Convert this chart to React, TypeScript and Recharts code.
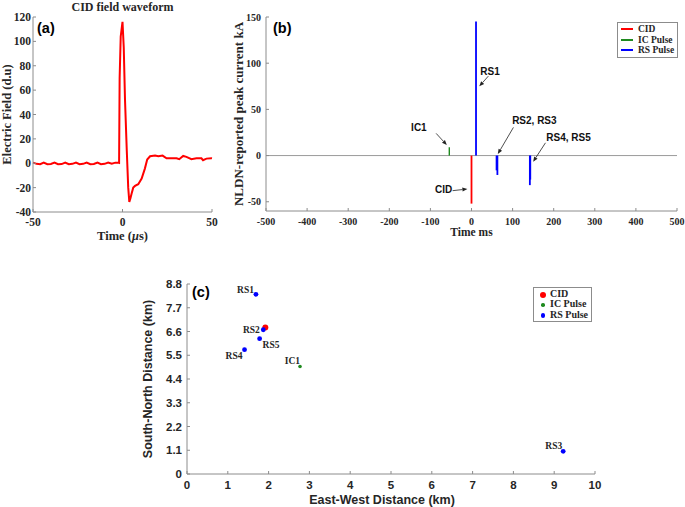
import React from "react";
import {
  LineChart,
  Line,
  ScatterChart,
  Scatter,
  XAxis,
  YAxis,
  ReferenceLine,
  ReferenceDot,
  Legend,
} from "recharts";

const SERIF = '"Liberation Serif", "Times New Roman", serif';
const SANS = '"Liberation Sans", Arial, sans-serif';
const AXIS = "#8c8c8c";
const INK = "#262626";

// (a) CID field waveform, time in microseconds
const waveTime = [
  -50, -48, -46, -44, -42, -40, -38, -36, -34, -32, -30, -28, -26, -24, -22, -20, -18, -16, -14, -12,
  -10, -8, -6, -4, -2.4, -1.9, -1.6, -1, 0, 0.7, 1.4, 2.4, 3.2, 3.8, 4.4, 5.1, 6, 7, 8.8, 10.7, 12.5,
  13.8, 15.4, 18.2, 20, 22.4, 24.6, 27, 30.2, 31.7, 33.9, 35.7, 38.5, 41.3, 44.1, 45, 46.9, 49.7, 50,
];
const waveField = [
  0.5, -0.5, -0.8, 0.6, -0.8, -0.6, 0.6, -0.8, -0.7, 0.6, -0.8, -0.5, 0.6, -0.8, -0.5, 0.6, -0.8, -0.6,
  0.6, -0.8, -0.5, 0.6, -0.4, 0.5, 0.5, 0.3, 70, 104, 116, 95, 52, 10, -20, -31.7, -29, -24.9, -20,
  -18.6, -17.2, -12.6, -4.4, 3, 5.7, 6.3, 5.7, 6.3, 4.1, 4.1, 4.1, 3.3, 6, 5.2, 3.3, 4.1, 4.1, 2.5, 3.8,
  4.1, 4,
];
const waveTicksX = [-50, 0, 50];
const waveTicksY = [-40, -20, 0, 20, 40, 60, 80, 100, 120];

// (b) NLDN-reported pulses
const pulseNames = ["CID", "IC1", "RS1", "RS2", "RS3", "RS4", "RS5"];
const pulseKinds = ["CID", "IC Pulse", "RS Pulse", "RS Pulse", "RS Pulse", "RS Pulse", "RS Pulse"];
const pulseTimes = [0, -54, 11, 61, 63, 142, 143];
const pulseCurrents = [-52, 9, 145, -16, -21, -32, -26];
const timeTicks = [-500, -400, -300, -200, -100, 0, 100, 200, 300, 400, 500];
const currentTicks = [-50, 0, 50, 100, 150];

// (c) pulse locations, km
const locNames = ["CID", "IC1", "RS1", "RS2", "RS3", "RS4", "RS5"];
const locKinds = ["CID", "IC Pulse", "RS Pulse", "RS Pulse", "RS Pulse", "RS Pulse", "RS Pulse"];
const eastKm = [1.92, 2.77, 1.69, 1.87, 9.22, 1.41, 1.78];
const northKm = [6.78, 4.98, 8.32, 6.68, 1.05, 5.76, 6.27];
const eastTicks = [0, 1, 2, 3, 4, 5, 6, 7, 8, 9, 10];
const northTicks = [0, 1.1, 2.2, 3.3, 4.4, 5.5, 6.6, 7.7, 8.8];

const kinds = ["CID", "IC Pulse", "RS Pulse"];
const kindColor: Record<string, string> = {
  CID: "#ff0000",
  "IC Pulse": "#1f8a1f",
  "RS Pulse": "#0000ff",
};
const kindRadius: Record<string, number> = { CID: 3, "IC Pulse": 1.8, "RS Pulse": 2.4 };

// annotation text and arrow placement for panel (b), in data units
const notes = [
  { text: "RS1", tx: 45, ty: 91, from: [41, 86], to: [19, 75] },
  { text: "IC1", tx: -128, ty: 30, from: [-86, 24], to: [-60, 11.4] },
  { text: "RS2, RS3", tx: 153, ty: 37.6, from: [102, 30.5], to: [64, 1.6] },
  { text: "RS4, RS5", tx: 236, ty: 19.2, from: [180, 13.8], to: [150, -6.7] },
  { text: "CID", tx: -68, ty: -36.5, from: [-46, -38], to: [-10, -36.2] },
];

// label placement beside each point of panel (c)
const labelPlace: Record<string, { dx: number; dy: number; anchor: string }> = {
  RS1: { dx: -2, dy: -1.5, anchor: "end" },
  RS2: { dx: -3.5, dy: 3, anchor: "end" },
  RS5: { dx: 3, dy: 9, anchor: "start" },
  RS4: { dx: -2, dy: 9, anchor: "end" },
  IC1: { dx: 0, dy: -2, anchor: "end" },
  RS3: { dx: -1, dy: -2, anchor: "end" },
};

const waveRows = waveTime.map((t, i) => ({ t, v: waveField[i] }));
const pulseRows = pulseTimes.map((t, i) => ({
  name: pulseNames[i],
  kind: pulseKinds[i],
  seg: [
    { t, v: 0 },
    { t, v: pulseCurrents[i] },
  ],
}));
const locRows = kinds.map((k) => ({
  kind: k,
  rows: locNames
    .map((name, i) => ({ name, kind: locKinds[i], x: eastKm[i], y: northKm[i] }))
    .filter((r) => r.kind === k),
}));

const serifTick = (size: number) => ({ fill: INK, fontSize: size, fontWeight: 700, fontFamily: SERIF });
const sansTick = (size: number) => ({ fill: INK, fontSize: size, fontWeight: 700, fontFamily: SANS });

function Arrow(p: any) {
  const { x1, y1, x2, y2 } = p;
  const a = Math.atan2(y2 - y1, x2 - x1);
  const bx = x2 - 5 * Math.cos(a);
  const by = y2 - 5 * Math.sin(a);
  const nx = -Math.sin(a) * 2;
  const ny = Math.cos(a) * 2;
  return (
    <g>
      <line x1={x1} y1={y1} x2={bx} y2={by} stroke="#222" strokeWidth={0.8} />
      <polygon points={`${x2},${y2} ${bx + nx},${by + ny} ${bx - nx},${by - ny}`} fill="#222" />
    </g>
  );
}

// x title of panel (a) with an italic mu
function MicroTitle(p: any) {
  const vb = p.viewBox || {};
  return (
    <text x={vb.x + vb.width / 2} y={vb.y + vb.height + 1.5} textAnchor="middle" fill={INK} fontSize={12.5} fontWeight={700} fontFamily={SERIF}>
      Time (<tspan fontStyle="italic">μ</tspan>s)
    </text>
  );
}

function LegendBox({ marker }: { marker: "line" | "dot" }) {
  return (
    <div
      style={{
        border: "1px solid #8c8c8c",
        background: "#fff",
        padding: "1px 3px 1px 3px",
        fontFamily: SERIF,
        fontWeight: 700,
        fontSize: marker === "line" ? 9.5 : 10,
        lineHeight: marker === "line" ? "10.5px" : "10.3px",
        color: INK,
      }}
    >
      {kinds.map((k) => (
        <div key={k} style={{ display: "flex", alignItems: "center", whiteSpace: "nowrap" }}>
          {marker === "line" ? (
            <span style={{ display: "inline-block", width: 12, height: 2, background: kindColor[k], marginRight: 5 }} />
          ) : (
            <span style={{ display: "inline-block", width: 12, textAlign: "center", marginRight: 1 }}>
              <span
                style={{
                  display: "inline-block",
                  width: kindRadius[k] * 2,
                  height: kindRadius[k] * 2,
                  borderRadius: "50%",
                  background: kindColor[k],
                  verticalAlign: "middle",
                }}
              />
            </span>
          )}
          <span>{k}</span>
        </div>
      ))}
    </div>
  );
}

function PanelTag({ text, left, top }: { text: string; left: number; top: number }) {
  return (
    <div style={{ position: "absolute", left, top, fontFamily: SANS, fontWeight: 700, fontSize: 14.5, lineHeight: "15px", color: "#000" }}>
      {text}
    </div>
  );
}

function WaveformPanel() {
  return (
    <div style={{ position: "absolute", left: 0, top: 0 }}>
      <LineChart width={230} height={245} data={waveRows} margin={{ top: 17, right: 18, bottom: 7, left: 0 }}>
        <XAxis
          xAxisId="b"
          type="number"
          dataKey="t"
          domain={[-50, 50]}
          ticks={waveTicksX}
          height={26}
          tickSize={-3}
          tickMargin={9}
          stroke={AXIS}
          tick={serifTick(11.5)}
          label={{ content: MicroTitle }}
        />
        <XAxis xAxisId="t" orientation="top" type="number" dataKey="t" domain={[-50, 50]} ticks={waveTicksX} height={0} tickSize={-3} tick={false} stroke={AXIS} />
        <YAxis
          yAxisId="l"
          type="number"
          domain={[-40, 120]}
          ticks={waveTicksY}
          width={33}
          tickSize={-3}
          tickMargin={5}
          stroke={AXIS}
          tick={serifTick(11.5)}
          label={{ value: "Electric Field (d.u)", angle: -90, position: "insideLeft", offset: 7, style: { textAnchor: "middle" }, fill: INK, fontSize: 12.5, fontWeight: 700, fontFamily: SERIF }}
        />
        <YAxis yAxisId="r" orientation="right" type="number" domain={[-40, 120]} ticks={waveTicksY} width={0} tickSize={-3} tick={false} stroke={AXIS} />
        <Line xAxisId="b" yAxisId="l" type="linear" dataKey="v" stroke="#ff0000" strokeWidth={2} dot={false} isAnimationActive={false} />
      </LineChart>
      <div style={{ position: "absolute", left: 33, width: 179, top: 0, textAlign: "center", fontFamily: SERIF, fontWeight: 700, fontSize: 12, lineHeight: "14px", color: INK }}>
        CID field waveform
      </div>
      <PanelTag text="(a)" left={37} top={21} />
    </div>
  );
}

function PulsePanel() {
  return (
    <div style={{ position: "absolute", left: 230, top: 0 }}>
      <LineChart width={455} height={245} margin={{ top: 17, right: 8, bottom: 14, left: 0 }}>
        <XAxis
          xAxisId="b"
          type="number"
          dataKey="t"
          domain={[-500, 500]}
          ticks={timeTicks}
          height={20}
          tickSize={-3}
          tickMargin={10}
          stroke={AXIS}
          tick={serifTick(10)}
          allowDuplicatedCategory={false}
          label={{ value: "Time ms", position: "bottom", offset: -3, fill: INK, fontSize: 11.5, fontWeight: 700, fontFamily: SERIF }}
        />
        <XAxis xAxisId="t" orientation="top" type="number" dataKey="t" domain={[-500, 500]} ticks={timeTicks} height={0} tickSize={-3} tick={false} stroke={AXIS} />
        <YAxis
          yAxisId="l"
          type="number"
          domain={[-60, 150]}
          ticks={currentTicks}
          width={36}
          tickSize={-3}
          tickMargin={8}
          stroke={AXIS}
          tick={serifTick(10)}
          label={{ value: "NLDN-reported peak current kA", angle: -90, position: "insideLeft", offset: 8, style: { textAnchor: "middle" }, fill: INK, fontSize: 13, fontWeight: 700, fontFamily: SERIF }}
        />
        <YAxis yAxisId="r" orientation="right" type="number" domain={[-60, 150]} ticks={currentTicks} width={0} tickSize={-3} tick={false} stroke={AXIS} />
        <ReferenceLine xAxisId="b" yAxisId="l" y={0} stroke="#9a9a9a" strokeWidth={1} />
        {pulseRows.map((p) => (
          <Line
            key={p.name}
            xAxisId="b"
            yAxisId="l"
            data={p.seg}
            dataKey="v"
            name={p.kind}
            type="linear"
            stroke={kindColor[p.kind]}
            strokeWidth={p.kind === "IC Pulse" ? 1.4 : 1.8}
            dot={false}
            isAnimationActive={false}
          />
        ))}
        {notes.map((n) => (
          <ReferenceLine
            key={"arrow-" + n.text}
            xAxisId="b"
            yAxisId="l"
            segment={[
              { x: n.from[0], y: n.from[1] },
              { x: n.to[0], y: n.to[1] },
            ]}
            shape={Arrow}
          />
        ))}
        {notes.map((n) => (
          <ReferenceDot
            key={"text-" + n.text}
            xAxisId="b"
            yAxisId="l"
            x={n.tx}
            y={n.ty}
            r={0}
            shape={(p: any) => (
              <text x={p.cx} y={p.cy} dy="0.35em" textAnchor="middle" fill="#111" fontSize={10} fontWeight={700} fontFamily={SANS}>
                {n.text}
              </text>
            )}
          />
        ))}
        <Legend
          layout="vertical"
          align="center"
          verticalAlign="middle"
          wrapperStyle={{ left: 387, top: 22, width: "auto" }}
          content={() => <LegendBox marker="line" />}
        />
      </LineChart>
      <PanelTag text="(b)" left={43} top={21} />
    </div>
  );
}

function LocationPanel() {
  return (
    <div style={{ position: "absolute", left: 130, top: 270 }}>
      <ScatterChart width={555} height={237} margin={{ top: 14, right: 90, bottom: 11, left: 7 }}>
        <XAxis
          xAxisId="b"
          type="number"
          dataKey="x"
          domain={[0, 10]}
          ticks={eastTicks}
          height={22}
          tickSize={-3}
          tickMargin={10}
          stroke={AXIS}
          tick={sansTick(11.5)}
          label={{ value: "East-West Distance (km)", position: "bottom", offset: -1, dx: -9, fill: INK, fontSize: 12.5, fontWeight: 700, fontFamily: SANS }}
        />
        <XAxis xAxisId="t" orientation="top" type="number" dataKey="x" domain={[0, 10]} ticks={eastTicks} height={0} tickSize={-3} tick={false} stroke={AXIS} />
        <YAxis
          yAxisId="l"
          type="number"
          dataKey="y"
          domain={[0, 8.8]}
          ticks={northTicks}
          width={50}
          tickSize={-3}
          tickMargin={8}
          stroke={AXIS}
          tick={sansTick(11.5)}
          label={{ value: "South-North Distance (km)", angle: -90, position: "insideLeft", offset: 11, style: { textAnchor: "middle" }, fill: INK, fontSize: 12.5, fontWeight: 700, fontFamily: SANS }}
        />
        <YAxis yAxisId="r" orientation="right" type="number" dataKey="y" domain={[0, 8.8]} ticks={northTicks} width={0} tickSize={-3} tick={false} stroke={AXIS} />
        {locRows.map((g) => (
          <Scatter
            key={g.kind}
            name={g.kind}
            xAxisId="b"
            yAxisId="l"
            data={g.rows}
            fill={kindColor[g.kind]}
            isAnimationActive={false}
            shape={(p: any) => {
              const place = labelPlace[p.payload.name];
              return (
                <g>
                  <circle cx={p.cx} cy={p.cy} r={kindRadius[g.kind]} fill={kindColor[g.kind]} />
                  {place && (
                    <text x={p.cx + place.dx} y={p.cy + place.dy} textAnchor={place.anchor} fill={INK} fontSize={9.5} fontWeight={700} fontFamily={SERIF}>
                      {p.payload.name}
                    </text>
                  )}
                </g>
              );
            }}
          />
        ))}
        <Legend
          layout="vertical"
          align="center"
          verticalAlign="middle"
          wrapperStyle={{ left: 403, top: 17, width: "auto" }}
          content={() => <LegendBox marker="dot" />}
        />
      </ScatterChart>
      <PanelTag text="(c)" left={62} top={15} />
    </div>
  );
}

export default function App() {
  return (
    <div style={{ position: "absolute", left: 0, top: 0, width: 685, height: 507, background: "#fff" }}>
      <WaveformPanel />
      <PulsePanel />
      <LocationPanel />
    </div>
  );
}
